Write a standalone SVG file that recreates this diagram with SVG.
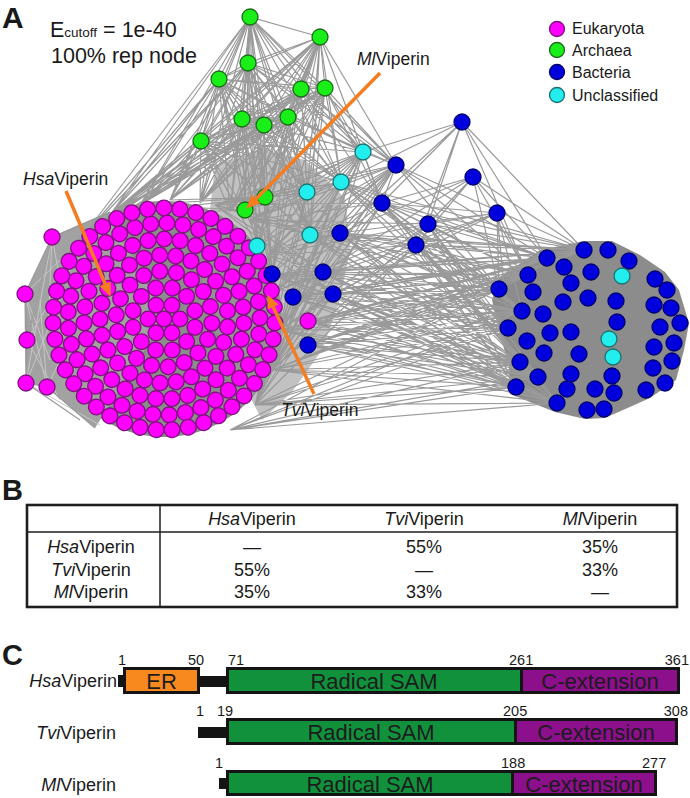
<svg xmlns="http://www.w3.org/2000/svg" width="690" height="798" viewBox="0 0 690 798">
<defs>
<style>
text{font-family:"Liberation Sans",Arial,Helvetica,sans-serif;fill:#1a1a1a}
.e{fill:none;stroke:#9a9a9a;stroke-width:1.2}
.el{fill:none;stroke:#c6c6c6;stroke-width:1}
.m{fill:#ff00ff;stroke:#7d137d;stroke-width:1.3}
.g{fill:#19ee19;stroke:#1c6a1c;stroke-width:1.3}
.b{fill:#0000dd;stroke:#000070;stroke-width:1.3}
.c{fill:#22eeee;stroke:#1e6f6f;stroke-width:1.3}
.mo{fill:none;stroke:#7d137d;stroke-width:17;stroke-linecap:round}
.mf{fill:none;stroke:#ff00ff;stroke-width:14.4;stroke-linecap:round}
.arr{fill:none;stroke:#f57c1f;stroke-width:3.5}
.it{font-style:italic}
.num{font-size:14.5px}
.box{stroke:#141414;stroke-width:3}
.bt{font-size:22px;text-anchor:middle;fill:#1c1c1c}
</style>
<marker id="ah" markerUnits="userSpaceOnUse" markerWidth="14" markerHeight="12" refX="10" refY="6" orient="auto">
<path d="M0,0 L14,6 L0,12 z" fill="#f57c1f"/>
</marker>
</defs>
<rect width="690" height="798" fill="#ffffff"/>

<!-- Panel A -->
<text x="2" y="28" font-size="30" font-weight="bold">A</text>
<text x="50" y="37" font-size="21.5">E<tspan font-size="13.5">cutoff</tspan> = 1e-40</text>
<text x="51" y="63" font-size="21.5">100% rep node</text>

<g id="background-fills">
<circle cx="164" cy="319" r="118" fill="#8c8c8c"/>
<polygon points="52,237 110,212 164,319 95,428 47,387 26,383 27,340 25,294" fill="#a2a2a2"/>
<polygon points="215,165 262,148 305,160 345,198 350,250 340,300 322,350 292,392 262,420 200,300" fill="#9a9a9a" opacity="0.6"/>
<polygon points="499,278 540,250 584,241 612,241 640,255 665,272 679,290 689,323 684,350 676,380 650,398 605,418 585,419 555,412 510,394 509,365 500,335 492,300" fill="#8c8c8c"/>
</g>

<g id="connectors">
<path class="el" d="M52 237L60 280M52 237L48 330M52 237L26 383M25 294L60 260M25 294L50 360M25 294L47 387M27 340L52 237M27 340L70 270M27 340L60 400M26 383L60 300M26 383L100 425M47 387L40 300M47 387L75 330"/>
<path class="e" d="M52 237L25 294M25 294L27 340M27 340L26 383M26 383L47 387M52 237L27 340M25 294L26 383M52 237L110 212M52 237L130 205M47 387L95 428M26 383L80 420"/>
<path class="e" d="M250 17L320 37M250 17L248 63M250 17L219 79M250 17L301 89M250 17L325 88M250 17L242 119M250 17L264 125M250 17L288 117M250 17L201 141M250 17L265 197M250 17L245 210M320 37L248 63M320 37L219 79M320 37L301 89M320 37L325 88M320 37L242 119M320 37L264 125M320 37L288 117M320 37L201 141M320 37L265 197M320 37L245 210M248 63L219 79M248 63L301 89M248 63L325 88M248 63L242 119M248 63L264 125M248 63L288 117M248 63L201 141M248 63L265 197M248 63L245 210M219 79L301 89M219 79L325 88M219 79L242 119M219 79L264 125M219 79L288 117M219 79L201 141M219 79L265 197M219 79L245 210M301 89L325 88M301 89L242 119M301 89L264 125M301 89L288 117M301 89L201 141M301 89L265 197M301 89L245 210M325 88L242 119M325 88L264 125M325 88L288 117M325 88L201 141M325 88L265 197M325 88L245 210M242 119L264 125M242 119L288 117M242 119L201 141M242 119L265 197M242 119L245 210M264 125L288 117M264 125L201 141M264 125L265 197M264 125L245 210M288 117L201 141M288 117L265 197M288 117L245 210M201 141L265 197M201 141L245 210M265 197L245 210"/>
<path class="e" d="M250 17L110 215M250 17L140 205M250 17L170 200M250 17L200 203M250 17L230 212M250 17L257 246M250 17L307 192M250 17L341 182M250 17L363 152M250 17L310 235M250 17L80 240M250 17L272 274M250 17L396 165M320 37L110 215M320 37L140 205M320 37L170 200M320 37L200 203M320 37L230 212M320 37L257 246M320 37L307 192M320 37L341 182M320 37L363 152M320 37L310 235M320 37L80 240M320 37L272 274M320 37L396 165M320 37L382 203M248 63L110 215M248 63L140 205M248 63L170 200M248 63L200 203M248 63L230 212M248 63L257 246M248 63L307 192M248 63L341 182M248 63L363 152M248 63L310 235M248 63L80 240M248 63L272 274M248 63L396 165M219 79L110 215M219 79L140 205M219 79L170 200M219 79L200 203M219 79L230 212M219 79L257 246M219 79L307 192M219 79L341 182M219 79L363 152M219 79L310 235M219 79L80 240M219 79L272 274M301 89L110 215M301 89L140 205M301 89L170 200M301 89L200 203M301 89L230 212M301 89L257 246M301 89L307 192M301 89L341 182M301 89L363 152M301 89L310 235M301 89L80 240M301 89L272 274M301 89L396 165M301 89L382 203M325 88L110 215M325 88L140 205M325 88L170 200M325 88L200 203M325 88L230 212M325 88L257 246M325 88L307 192M325 88L341 182M325 88L363 152M325 88L310 235M325 88L80 240M325 88L272 274M325 88L396 165M325 88L382 203M242 119L110 215M242 119L140 205M242 119L170 200M242 119L200 203M242 119L230 212M242 119L257 246M242 119L307 192M242 119L341 182M242 119L363 152M242 119L310 235M242 119L80 240M242 119L272 274M264 125L110 215M264 125L140 205M264 125L170 200M264 125L200 203M264 125L230 212M264 125L257 246M264 125L307 192M264 125L341 182M264 125L363 152M264 125L310 235M264 125L80 240M264 125L272 274M288 117L110 215M288 117L140 205M288 117L170 200M288 117L200 203M288 117L230 212M288 117L257 246M288 117L307 192M288 117L341 182M288 117L363 152M288 117L310 235M288 117L80 240M288 117L272 274M288 117L396 165M201 141L110 215M201 141L140 205M201 141L170 200M201 141L200 203M201 141L230 212M201 141L257 246M201 141L307 192M201 141L341 182M201 141L363 152M201 141L310 235M201 141L80 240M201 141L272 274M201 141L60 260M265 197L110 215M265 197L140 205M265 197L170 200M265 197L307 192M265 197L341 182M265 197L363 152M265 197L310 235M265 197L272 274M245 210L110 215M245 210L140 205M245 210L307 192M245 210L341 182M245 210L363 152M245 210L310 235M245 210L272 274"/>
<path class="e" d="M363 152L250 220M363 152L268 255M363 152L278 290M363 152L280 330M363 152L272 370M363 152L255 405M363 152L215 205M341 182L250 220M341 182L268 255M341 182L278 290M341 182L280 330M341 182L272 370M341 182L255 405M341 182L215 205M307 192L250 220M307 192L268 255M307 192L278 290M307 192L280 330M307 192L272 370M307 192L255 405M307 192L215 205M310 235L250 220M310 235L268 255M310 235L278 290M310 235L280 330M310 235L272 370M310 235L255 405M310 235L215 205M382 203L250 220M382 203L268 255M382 203L278 290M382 203L280 330M382 203L272 370M382 203L255 405M382 203L215 205M340 233L250 220M340 233L268 255M340 233L278 290M340 233L280 330M340 233L272 370M340 233L255 405M340 233L215 205M323 272L250 220M323 272L268 255M323 272L278 290M323 272L280 330M323 272L272 370M323 272L255 405M323 272L215 205M333 294L250 220M333 294L268 255M333 294L278 290M333 294L280 330M333 294L272 370M333 294L255 405M333 294L215 205M396 165L250 220M396 165L268 255M396 165L278 290M396 165L280 330M396 165L272 370M396 165L215 205M428 224L250 220M428 224L268 255M428 224L278 290M428 224L280 330M428 224L272 370M416 245L250 220M416 245L268 255M416 245L278 290M416 245L280 330M416 245L272 370M416 245L255 405"/>
<path class="e" d="M340 233L499 289M340 233L528 275M340 233L547 258M340 233L508 328M340 233L520 362M340 233L516 387M340 233L538 377M340 233L557 403M340 233L584 250M340 233L522 311M323 272L499 289M323 272L528 275M323 272L547 258M323 272L508 328M323 272L520 362M323 272L516 387M323 272L538 377M323 272L557 403M323 272L584 250M323 272L522 311M333 294L499 289M333 294L528 275M333 294L547 258M333 294L508 328M333 294L520 362M333 294L516 387M333 294L538 377M333 294L557 403M333 294L584 250M333 294L522 311M308 321L499 289M308 321L528 275M308 321L547 258M308 321L508 328M308 321L520 362M308 321L516 387M308 321L538 377M308 321L557 403M308 321L584 250M308 321L522 311M308 345L499 289M308 345L528 275M308 345L547 258M308 345L508 328M308 345L520 362M308 345L516 387M308 345L538 377M308 345L557 403M308 345L584 250M308 345L522 311M293 297L499 289M293 297L528 275M293 297L547 258M293 297L508 328M293 297L520 362M293 297L516 387M293 297L538 377M293 297L557 403M293 297L584 250M293 297L522 311M272 274L499 289M272 274L528 275M272 274L547 258M272 274L508 328M272 274L520 362M272 274L516 387M272 274L538 377M272 274L557 403M272 274L584 250M272 274L522 311M280 330L499 289M280 330L528 275M280 330L547 258M280 330L508 328M280 330L520 362M280 330L516 387M280 330L538 377M280 330L557 403M280 330L584 250M280 330L522 311M272 370L499 289M272 370L528 275M272 370L547 258M272 370L508 328M272 370L520 362M272 370L516 387M272 370L538 377M272 370L557 403M272 370L584 250M272 370L522 311M255 405L499 289M255 405L528 275M255 405L508 328M255 405L520 362M255 405L516 387M255 405L538 377M255 405L557 403M255 405L522 311M230 430L499 289M230 430L508 328M230 430L520 362M230 430L516 387M230 430L538 377M230 430L557 403M230 430L522 311M382 203L499 289M382 203L528 275M382 203L547 258M382 203L508 328M382 203L520 362M382 203L516 387M382 203L538 377M382 203L557 403M382 203L584 250M382 203L522 311M416 245L499 289M416 245L528 275M416 245L547 258M416 245L508 328M416 245L520 362M416 245L516 387M416 245L538 377M416 245L557 403M416 245L584 250M416 245L522 311M428 224L499 289M428 224L528 275M428 224L547 258M428 224L508 328M428 224L520 362M428 224L516 387M428 224L538 377M428 224L557 403M428 224L584 250M428 224L522 311M310 235L499 289M310 235L528 275M310 235L547 258M310 235L508 328M310 235L520 362M310 235L516 387M310 235L538 377M310 235L584 250M341 182L499 289M341 182L528 275M341 182L547 258M341 182L508 328M341 182L520 362M341 182L584 250M341 182L522 311"/>
<path class="e" d="M462 122L382 203M462 122L428 224M462 122L340 233M462 122L416 245M462 122L341 182M462 122L363 152M462 122L547 258M462 122L584 250M462 122L528 275M396 165L363 152M396 165L341 182M396 165L307 192M396 165L310 235M396 165L382 203M396 165L340 233M396 165L257 246M396 165L272 274M396 165L499 289M396 165L528 275M396 165L547 258M396 165L584 250M396 165L323 272M473 177L428 224M473 177L416 245M473 177L382 203M473 177L340 233M473 177L499 289M473 177L528 275M473 177L547 258M473 177L584 250M473 177L323 272M497 213L416 245M497 213L428 224M497 213L340 233M497 213L382 203M497 213L499 289M497 213L528 275M497 213L522 311M497 213L508 328M497 213L323 272M497 213L333 294M363 152L341 182M363 152L307 192M363 152L310 235M363 152L382 203M363 152L340 233M363 152L257 246M363 152L272 274"/>
</g>

<g id="eukaryota-cluster" transform="translate(164 319)">
<circle r="7.8" class="m"/>
<g><circle r="16" pathLength="360" stroke-dasharray="0.01 59.99" class="mo"/><circle r="16" pathLength="360" stroke-dasharray="0.01 59.99" class="mf"/></g>
<g transform="rotate(15)"><circle r="32" pathLength="360" stroke-dasharray="0.01 29.99" class="mo"/><circle r="32" pathLength="360" stroke-dasharray="0.01 29.99" class="mf"/></g>
<g transform="rotate(5)"><circle r="48" pathLength="360" stroke-dasharray="0.01 19.99" class="mo"/><circle r="48" pathLength="360" stroke-dasharray="0.01 19.99" class="mf"/></g>
<g transform="rotate(7)"><circle r="64" pathLength="360" stroke-dasharray="0.01 14.39" class="mo"/><circle r="64" pathLength="360" stroke-dasharray="0.01 14.39" class="mf"/></g>
<g transform="rotate(3)"><circle r="80" pathLength="360" stroke-dasharray="0.01 11.603" class="mo"/><circle r="80" pathLength="360" stroke-dasharray="0.01 11.603" class="mf"/></g>
<g transform="rotate(9)"><circle r="96" pathLength="360" stroke-dasharray="0.01 9.72" class="mo"/><circle r="96" pathLength="360" stroke-dasharray="0.01 9.72" class="mf"/></g>
<g transform="rotate(2)"><circle r="111" pathLength="360" stroke-dasharray="0.01 8.362" class="mo"/><circle r="111" pathLength="360" stroke-dasharray="0.01 8.362" class="mf"/></g>
</g>

<g id="eukaryota-outliers">
<circle cx="52" cy="237" r="8" class="m"/>
<circle cx="25" cy="294" r="8" class="m"/>
<circle cx="27" cy="340" r="8" class="m"/>
<circle cx="26" cy="383" r="8" class="m"/>
<circle cx="47" cy="387" r="8" class="m"/>
<circle cx="308" cy="321" r="8" class="m"/>
</g>

<g id="archaea-nodes">
<circle cx="250" cy="17" r="8" class="g"/>
<circle cx="320" cy="37" r="8" class="g"/>
<circle cx="248" cy="63" r="8" class="g"/>
<circle cx="219" cy="79" r="8" class="g"/>
<circle cx="301" cy="89" r="8" class="g"/>
<circle cx="325" cy="88" r="8" class="g"/>
<circle cx="242" cy="119" r="8" class="g"/>
<circle cx="264" cy="125" r="8" class="g"/>
<circle cx="288" cy="117" r="8" class="g"/>
<circle cx="201" cy="141" r="8" class="g"/>
<circle cx="265" cy="197" r="8" class="g"/>
<circle cx="245" cy="210" r="8" class="g"/>
</g>

<g id="scattered-nodes">
<circle cx="363" cy="152" r="8" class="c"/>
<circle cx="341" cy="182" r="8" class="c"/>
<circle cx="307" cy="192" r="8" class="c"/>
<circle cx="310" cy="235" r="8" class="c"/>
<circle cx="257" cy="246" r="8" class="c"/>
<circle cx="462" cy="122" r="8" class="b"/>
<circle cx="396" cy="165" r="8" class="b"/>
<circle cx="473" cy="177" r="8" class="b"/>
<circle cx="497" cy="213" r="8" class="b"/>
<circle cx="382" cy="203" r="8" class="b"/>
<circle cx="428" cy="224" r="8" class="b"/>
<circle cx="340" cy="233" r="8" class="b"/>
<circle cx="416" cy="245" r="8" class="b"/>
<circle cx="323" cy="272" r="8" class="b"/>
<circle cx="272" cy="274" r="8" class="b"/>
<circle cx="293" cy="297" r="8" class="b"/>
<circle cx="333" cy="294" r="8" class="b"/>
<circle cx="308" cy="345" r="8" class="b"/>
</g>

<g id="bacteria-cluster">
<circle cx="547" cy="258" r="8" class="b"/>
<circle cx="584" cy="250" r="8" class="b"/>
<circle cx="608" cy="250" r="8" class="b"/>
<circle cx="629" cy="261" r="8" class="b"/>
<circle cx="564" cy="267" r="8" class="b"/>
<circle cx="591" cy="272" r="8" class="b"/>
<circle cx="528" cy="275" r="8" class="b"/>
<circle cx="655" cy="279" r="8" class="b"/>
<circle cx="667" cy="290" r="8" class="b"/>
<circle cx="499" cy="289" r="8" class="b"/>
<circle cx="533" cy="292" r="8" class="b"/>
<circle cx="571" cy="283" r="8" class="b"/>
<circle cx="563" cy="302" r="8" class="b"/>
<circle cx="588" cy="298" r="8" class="b"/>
<circle cx="616" cy="301" r="8" class="b"/>
<circle cx="654" cy="305" r="8" class="b"/>
<circle cx="671" cy="308" r="8" class="b"/>
<circle cx="522" cy="311" r="8" class="b"/>
<circle cx="543" cy="314" r="8" class="b"/>
<circle cx="617" cy="322" r="8" class="b"/>
<circle cx="660" cy="327" r="8" class="b"/>
<circle cx="680" cy="323" r="8" class="b"/>
<circle cx="508" cy="328" r="8" class="b"/>
<circle cx="550" cy="333" r="8" class="b"/>
<circle cx="571" cy="332" r="8" class="b"/>
<circle cx="527" cy="341" r="8" class="b"/>
<circle cx="654" cy="347" r="8" class="b"/>
<circle cx="674" cy="343" r="8" class="b"/>
<circle cx="544" cy="353" r="8" class="b"/>
<circle cx="579" cy="354" r="8" class="b"/>
<circle cx="520" cy="362" r="8" class="b"/>
<circle cx="653" cy="368" r="8" class="b"/>
<circle cx="672" cy="361" r="8" class="b"/>
<circle cx="538" cy="377" r="8" class="b"/>
<circle cx="571" cy="374" r="8" class="b"/>
<circle cx="612" cy="376" r="8" class="b"/>
<circle cx="516" cy="387" r="8" class="b"/>
<circle cx="567" cy="389" r="8" class="b"/>
<circle cx="595" cy="389" r="8" class="b"/>
<circle cx="614" cy="393" r="8" class="b"/>
<circle cx="646" cy="390" r="8" class="b"/>
<circle cx="665" cy="383" r="8" class="b"/>
<circle cx="557" cy="403" r="8" class="b"/>
<circle cx="587" cy="410" r="8" class="b"/>
<circle cx="604" cy="409" r="8" class="b"/>
<circle cx="622" cy="276" r="8" class="c"/>
<circle cx="609" cy="339" r="8" class="c"/>
<circle cx="613" cy="357" r="8" class="c"/>
</g>

<g id="annotations">
<line x1="380" y1="73" x2="249" y2="206" class="arr" marker-end="url(#ah)"/>
<line x1="66" y1="191" x2="109" y2="293" class="arr" marker-end="url(#ah)"/>
<line x1="314" y1="394" x2="269" y2="298" class="arr" marker-end="url(#ah)"/>
<text x="357" y="65" font-size="17.5"><tspan class="it">Ml</tspan>Viperin</text>
<text x="23" y="185" font-size="17.5"><tspan class="it">Hsa</tspan>Viperin</text>
<text x="281" y="416" font-size="17.5"><tspan class="it">Tvi</tspan>Viperin</text>
</g>

<g id="legend">
<circle cx="557" cy="29" r="7.5" class="m"/>
<circle cx="557" cy="50" r="7.5" class="g"/>
<circle cx="557" cy="72" r="7.5" class="b"/>
<circle cx="557" cy="95" r="7.5" class="c"/>
<text x="572" y="34" font-size="16">Eukaryota</text>
<text x="572" y="56" font-size="16">Archaea</text>
<text x="572" y="78" font-size="16">Bacteria</text>
<text x="572" y="101" font-size="16">Unclassified</text>
</g>

<!-- Panel B -->
<g id="panel-b">
<text x="2" y="500" font-size="29" font-weight="bold">B</text>
<rect x="27" y="505" width="650" height="102" fill="none" stroke="#1e1e1e" stroke-width="2.6"/>
<line x1="27" y1="532" x2="677" y2="532" stroke="#1e1e1e" stroke-width="1.5"/>
<line x1="160" y1="505" x2="160" y2="607" stroke="#1e1e1e" stroke-width="1.5"/>
<g font-size="18" text-anchor="middle">
<text x="252" y="525" font-size="18" text-anchor="middle"><tspan class="it">Hsa</tspan>Viperin</text>
<text x="424" y="525" font-size="18" text-anchor="middle"><tspan class="it">Tvi</tspan>Viperin</text>
<text x="600" y="525" font-size="18" text-anchor="middle"><tspan class="it">Ml</tspan>Viperin</text>
<text x="91" y="553" font-size="18" text-anchor="middle"><tspan class="it">Hsa</tspan>Viperin</text>
<text x="91" y="576" font-size="18" text-anchor="middle"><tspan class="it">Tvi</tspan>Viperin</text>
<text x="91" y="598" font-size="18" text-anchor="middle"><tspan class="it">Ml</tspan>Viperin</text>
<text x="252" y="553" font-size="18" text-anchor="middle">—</text>
<text x="424" y="553" font-size="18" text-anchor="middle">55%</text>
<text x="600" y="553" font-size="18" text-anchor="middle">35%</text>
<text x="252" y="576" font-size="18" text-anchor="middle">55%</text>
<text x="424" y="576" font-size="18" text-anchor="middle">—</text>
<text x="600" y="576" font-size="18" text-anchor="middle">33%</text>
<text x="252" y="598" font-size="18" text-anchor="middle">35%</text>
<text x="424" y="598" font-size="18" text-anchor="middle">33%</text>
<text x="600" y="598" font-size="18" text-anchor="middle">—</text>
</g>
</g>

<!-- Panel C -->
<g id="panel-c">
<text x="2" y="665" font-size="29" font-weight="bold">C</text>
<text x="117" y="687" font-size="18" text-anchor="end"><tspan class="it">Hsa</tspan>Viperin</text>
<text x="116" y="739" font-size="18" text-anchor="end"><tspan class="it">Tvi</tspan>Viperin</text>
<text x="116" y="791" font-size="18" text-anchor="end"><tspan class="it">Ml</tspan>Viperin</text>

<g id="hsa-domains">
<rect x="118" y="675" width="8" height="12" fill="#141414"/>
<rect x="198" y="676" width="31" height="11" fill="#141414"/>
<rect x="124.5" y="668.5" width="74" height="24" fill="#f7891f" class="box"/>
<rect x="227.5" y="668.5" width="294" height="24" fill="#11913c" class="box"/>
<rect x="521.5" y="668.5" width="157" height="24" fill="#8c0f8c" class="box"/>
<text x="161.5" y="689" class="bt">ER</text>
<text x="374" y="689" class="bt">Radical SAM</text>
<text x="600" y="689" class="bt">C-extension</text>
<text x="118" y="665" class="num">1</text>
<text x="188" y="665" class="num">50</text>
<text x="228" y="665" class="num">71</text>
<text x="509" y="665" class="num">261</text>
<text x="689" y="665" class="num" text-anchor="end">361</text>
</g>
<g id="tvi-domains">
<rect x="198" y="727" width="31" height="11" fill="#141414"/>
<rect x="227.5" y="719.5" width="288" height="24" fill="#11913c" class="box"/>
<rect x="515.5" y="719.5" width="161" height="24" fill="#8c0f8c" class="box"/>
<text x="371" y="740" class="bt">Radical SAM</text>
<text x="596" y="740" class="bt">C-extension</text>
<text x="196" y="716" class="num">1</text>
<text x="217" y="716" class="num">19</text>
<text x="503" y="716" class="num">205</text>
<text x="688" y="716" class="num" text-anchor="end">308</text>
</g>
<g id="mli-domains">
<rect x="219" y="778" width="10" height="11" fill="#141414"/>
<rect x="227.5" y="771.5" width="285" height="23" fill="#11913c" class="box"/>
<rect x="512.5" y="771.5" width="143" height="23" fill="#8c0f8c" class="box"/>
<text x="370" y="792" class="bt">Radical SAM</text>
<text x="584" y="792" class="bt">C-extension</text>
<text x="215" y="768" class="num">1</text>
<text x="501" y="768" class="num">188</text>
<text x="642" y="768" class="num">277</text>
</g>
</g>
</svg>
